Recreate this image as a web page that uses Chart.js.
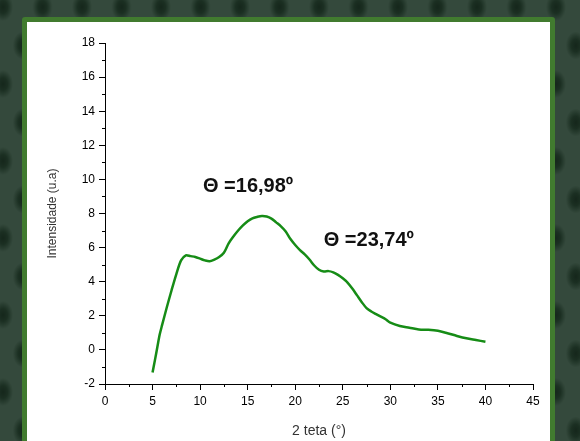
<!DOCTYPE html>
<html>
<head>
<meta charset="utf-8">
<script src="https://cdn.jsdelivr.net/npm/chart.js@4.4.1/dist/chart.umd.min.js"></script>
<style>
  html, body { margin: 0; padding: 0; }
  body {
    width: 580px; height: 441px; overflow: hidden; position: relative;
    background-color: #34493c;
    background-image:
      radial-gradient(ellipse 10px 14px at center, #15261b 0%, #1b2f22 45%, rgba(52,73,60,0) 100%),
      radial-gradient(ellipse 10px 14px at center, #15261b 0%, #1b2f22 45%, rgba(52,73,60,0) 100%);
    background-size: 39.5px 77px, 39.5px 77px;
    background-position: -16.75px -31.5px, 3px 7px;
  }
  #panel {
    position: absolute; left: 22px; top: 17px; width: 523px; height: 440px;
    background: #fff; border: 5px solid #417b2f; border-radius: 3px;
  }
  #wrap { position: absolute; left: 0; top: 0; width: 580px; height: 441px; }
</style>
</head>
<body>
<div id="panel"></div>
<div id="wrap"><canvas id="xrdChart"></canvas></div>
<script>
// XRD pattern
const twoTheta = [5, 5.25, 5.5, 5.75, 6, 6.5, 7, 7.5, 8, 8.5, 9, 9.5, 10, 10.5, 11, 11.5, 12, 12.5,
  13, 13.5, 14, 14.5, 15, 15.5, 16, 16.5, 17, 17.5, 18, 18.5, 19, 19.5, 20, 20.5, 21, 21.5,
  22, 22.5, 23, 23.5, 24, 24.5, 25, 25.5, 26, 26.5, 27, 27.5, 28, 28.5, 29, 29.5, 30,
  31, 32, 33, 34, 35, 36, 37, 38, 39, 40];
const intensity = [-1.33, -0.6, 0.15, 0.9, 1.45, 2.5, 3.5, 4.45, 5.25, 5.55, 5.5, 5.45, 5.35, 5.25, 5.2, 5.3, 5.45, 5.7,
  6.25, 6.65, 7.0, 7.3, 7.55, 7.72, 7.8, 7.85, 7.82, 7.7, 7.48, 7.25, 6.95, 6.5, 6.15, 5.85, 5.6, 5.3,
  4.95, 4.7, 4.6, 4.62, 4.55, 4.4, 4.2, 3.95, 3.6, 3.2, 2.8, 2.45, 2.25, 2.1, 1.95, 1.8, 1.6,
  1.4, 1.3, 1.2, 1.18, 1.12, 0.98, 0.82, 0.68, 0.58, 0.48];

const xTicks = [0, 5, 10, 15, 20, 25, 30, 35, 40, 45];
const yTicks = [-2, 0, 2, 4, 6, 8, 10, 12, 14, 16, 18];

const peakLabels = ['\u0398 =16,98\u00BA', '\u0398 =23,74\u00BA'];
const peakLabelX = [10.3, 23.0];
const peakLabelY = [9.6, 6.4];

// minor ticks halfway between the labelled ones
const minorTicks = {
  id: 'minorTicks',
  afterDraw(chart) {
    const { ctx, scales: { x, y } } = chart;
    ctx.save();
    ctx.strokeStyle = '#000';
    ctx.lineWidth = 1;
    ctx.beginPath();
    for (let i = 0; i < xTicks.length - 1; i++) {
      const px = Math.round(x.getPixelForValue((xTicks[i] + xTicks[i + 1]) / 2)) + 0.5;
      ctx.moveTo(px, y.bottom);
      ctx.lineTo(px, y.bottom + 3);
    }
    for (let i = 0; i < yTicks.length - 1; i++) {
      const py = Math.round(y.getPixelForValue((yTicks[i] + yTicks[i + 1]) / 2)) + 0.5;
      ctx.moveTo(x.left, py);
      ctx.lineTo(x.left - 3, py);
    }
    ctx.stroke();
    ctx.restore();
  }
};

const peakText = {
  id: 'peakText',
  afterDatasetsDraw(chart) {
    const { ctx, scales: { x, y } } = chart;
    ctx.save();
    ctx.font = 'bold 20px "Liberation Sans", Arial, sans-serif';
    ctx.fillStyle = '#111';
    ctx.textAlign = 'left';
    ctx.textBaseline = 'middle';
    peakLabels.forEach((t, i) => {
      ctx.fillText(t, x.getPixelForValue(peakLabelX[i]), y.getPixelForValue(peakLabelY[i]));
    });
    ctx.restore();
  }
};

const tickFont = { family: '"Liberation Sans", Arial, sans-serif', size: 12 };

new Chart(document.getElementById('xrdChart'), {
  type: 'line',
  data: {
    datasets: [{
      data: twoTheta.map((v, i) => ({ x: v, y: intensity[i] })),
      borderColor: '#168c16',
      borderWidth: 2.5,
      pointRadius: 0,
      tension: 0.3,
      fill: false
    }]
  },
  options: {
    responsive: true,
    maintainAspectRatio: false,
    animation: false,
    layout: { padding: { top: 43, right: 47, bottom: 0, left: 0 } },
    plugins: { legend: { display: false }, tooltip: { enabled: false } },
    scales: {
      x: {
        type: 'linear',
        min: xTicks[0],
        max: xTicks[xTicks.length - 1],
        afterBuildTicks: s => { s.ticks = xTicks.map(v => ({ value: v })); },
        afterFit: s => { s.height = 57; },
        ticks: { font: tickFont, color: '#000', padding: 4, maxRotation: 0 },
        grid: { drawOnChartArea: false, drawTicks: true, tickLength: 6, tickColor: '#000' },
        border: { display: true, color: '#000', width: 1 },
        title: {
          display: true, text: '2 teta (\u00B0)', color: '#333',
          font: { family: '"Liberation Sans", Arial, sans-serif', size: 14 },
          padding: { top: 0, bottom: 1 }
        }
      },
      y: {
        min: yTicks[0],
        max: yTicks[yTicks.length - 1],
        afterBuildTicks: s => { s.ticks = yTicks.map(v => ({ value: v })); },
        afterFit: s => { s.width = 105; },
        ticks: { font: tickFont, color: '#000', padding: 4 },
        grid: { drawOnChartArea: false, drawTicks: true, tickLength: 6, tickColor: '#000' },
        border: { display: true, color: '#000', width: 1 },
        title: {
          display: true, text: 'Intensidade (u.a)', color: '#333',
          font: { family: '"Liberation Sans", Arial, sans-serif', size: 12 },
          padding: { top: 45, bottom: 0 }
        }
      }
    }
  },
  plugins: [minorTicks, peakText]
});
</script>
</body>
</html>
